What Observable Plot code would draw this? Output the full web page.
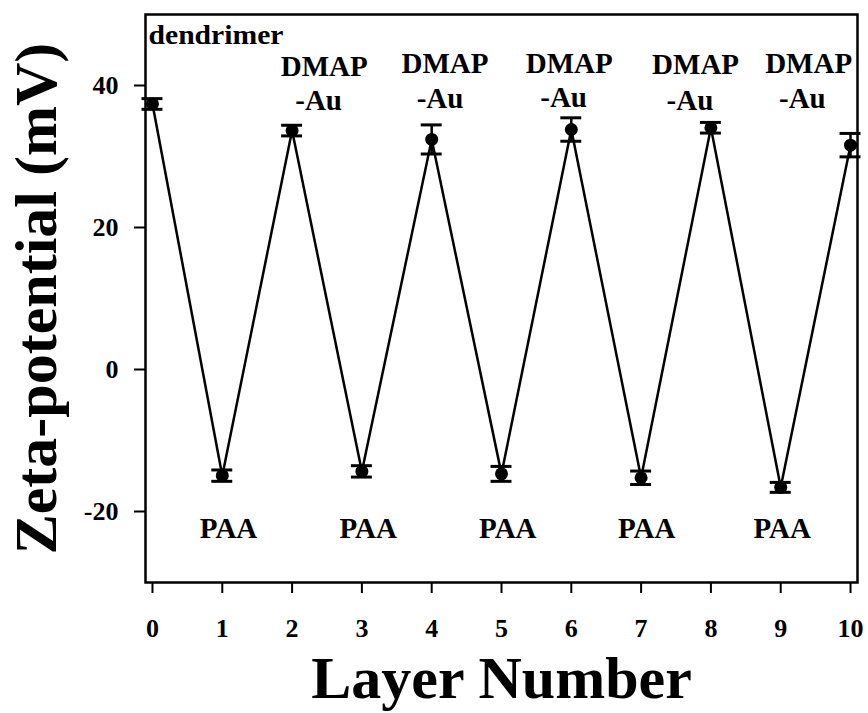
<!DOCTYPE html>
<html><head><meta charset="utf-8">
<script src="https://cdn.jsdelivr.net/npm/d3@7"></script>
<script src="https://cdn.jsdelivr.net/npm/@observablehq/plot@0.6"></script>
<style>body{margin:0;background:#fff}</style>
</head><body><div id="chart"></div>
<script>
// ---- data ----
const layers = [0, 1, 2, 3, 4, 5, 6, 7, 8, 9, 10];
const zeta = [37.4, -14.95, 33.65, -14.35, 32.4, -14.7, 33.8, -15.25, 34.05, -16.6, 31.6];
const zetaErr = [0.75, 0.8, 0.75, 0.8, 2.05, 1.05, 1.65, 0.95, 0.75, 0.7, 1.65];
const xTicks = [0, 1, 2, 3, 4, 5, 6, 7, 8, 9, 10];
const yTicks = [-20, 0, 20, 40];

// annotation anchors (data units)
const dendrimerLabel = [{x: -0.057, y: 45.9, text: "dendrimer"}];
const dmapX = [2.46, 4.19, 5.97, 7.78, 9.40];
const dmapY = [41.4, 41.7, 41.8, 41.55, 41.7];
const auX = [2.38, 4.12, 5.89, 7.70, 9.31];
const auY = [36.5, 36.9, 37.0, 36.6, 36.9];
const paaX = [1.09, 3.09, 5.09, 7.08, 9.02];
const paaY = [-23.7, -23.7, -23.7, -23.7, -23.7];

const data = layers.map((l, i) => ({layer: l, zeta: zeta[i], err: zetaErr[i]}));
const dmap = dmapX.map((x, i) => ({x, y: dmapY[i], text: "DMAP"}));
const au = auX.map((x, i) => ({x, y: auY[i], text: "-Au"}));
const paa = paaX.map((x, i) => ({x, y: paaY[i], text: "PAA"}));

const font = "'Liberation Serif','Times New Roman',Times,serif";
const capHalf = 0.15;

const plot = Plot.plot({
  width: 868,
  height: 713,
  marginLeft: 145,
  marginRight: 11,
  marginTop: 14,
  marginBottom: 131,
  style: {fontFamily: font, background: "#fff", color: "#000", overflow: "visible"},
  x: {domain: [-0.1, 10.1]},
  y: {domain: [-30, 50]},
  marks: [
    Plot.frame({stroke: "#000", strokeWidth: 2.5}),
    Plot.axisX({ticks: xTicks, tickSize: 11, tickPadding: 25, fontSize: 26, fontWeight: "bold",
      strokeWidth: 2, label: null, tickFormat: d => String(d)}),
    Plot.axisY({ticks: yTicks, tickSize: 11, tickPadding: 16, fontSize: 26, fontWeight: "bold",
      strokeWidth: 2, label: null, tickFormat: d => String(d)}),
    Plot.line(data, {x: "layer", y: "zeta", stroke: "#000", strokeWidth: 2.5}),
    Plot.ruleX(data, {x: "layer", y1: d => d.zeta - d.err, y2: d => d.zeta + d.err, stroke: "#000", strokeWidth: 2.5}),
    Plot.ruleY(data, {y: d => d.zeta + d.err, x1: d => d.layer - capHalf, x2: d => d.layer + capHalf, stroke: "#000", strokeWidth: 3}),
    Plot.ruleY(data, {y: d => d.zeta - d.err, x1: d => d.layer - capHalf, x2: d => d.layer + capHalf, stroke: "#000", strokeWidth: 3}),
    Plot.dot(data, {x: "layer", y: "zeta", r: 6.5, fill: "#000", stroke: "none"}),
    Plot.text(dendrimerLabel, {x: "x", y: "y", text: "text", textAnchor: "start", lineAnchor: "bottom",
      fontSize: 27, fontWeight: "bold", fill: "#000"}),
    Plot.text(dmap, {x: "x", y: "y", text: "text", lineAnchor: "bottom", fontSize: 29, fontWeight: "bold", fill: "#000"}),
    Plot.text(au, {x: "x", y: "y", text: "text", lineAnchor: "bottom", fontSize: 29, fontWeight: "bold", fill: "#000"}),
    Plot.text(paa, {x: "x", y: "y", text: "text", lineAnchor: "bottom", fontSize: 29, fontWeight: "bold", fill: "#000"}),
    Plot.text(["Zeta-potential (mV)"], {frameAnchor: "left", dx: -109, rotate: -90, textAnchor: "middle",
      lineAnchor: "middle", fontSize: 60, fontWeight: "bold", fill: "#000"}),
    Plot.text(["Layer Number"], {frameAnchor: "bottom", dy: 96, textAnchor: "middle", lineAnchor: "middle",
      fontSize: 60, fontWeight: "bold", fill: "#000"})
  ]
});

d3.select(plot).selectAll("text")
  .filter(function() { return this.textContent === "dendrimer"; })
  .attr("textLength", 135).attr("lengthAdjust", "spacingAndGlyphs");

document.getElementById("chart").appendChild(plot);
</script>
</body></html>
